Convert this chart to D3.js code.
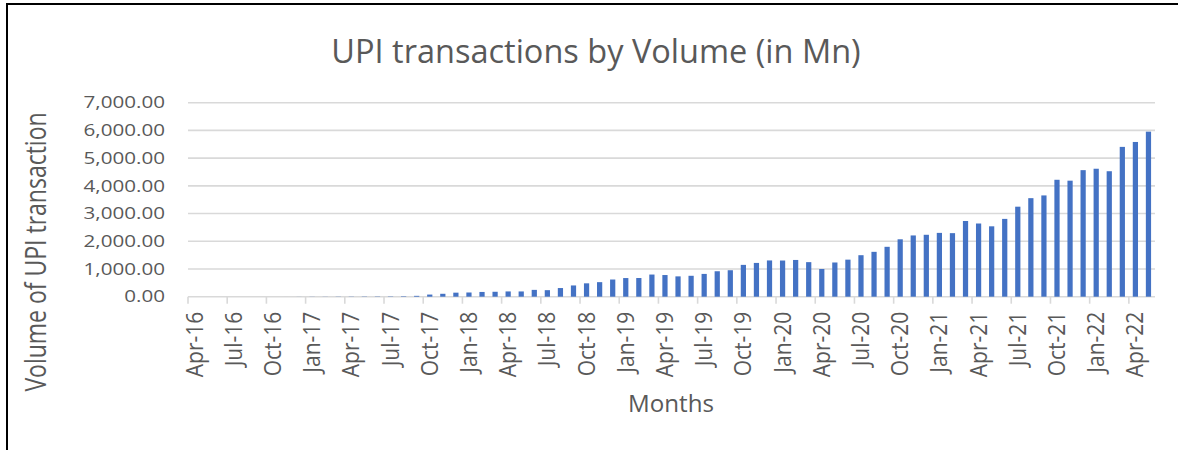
<!DOCTYPE html>
<html><head><meta charset="utf-8">
<script src="https://cdn.jsdelivr.net/npm/d3@7"></script>
<style>
body{margin:0;background:#fff}
svg{display:block}
text{font-family:"Open Sans",sans-serif;fill:#595959}
</style>
</head><body>
<svg id="c" width="1178" height="450"></svg>
<script>
const months = ["Apr-16","May-16","Jun-16","Jul-16","Aug-16","Sep-16","Oct-16","Nov-16","Dec-16",
"Jan-17","Feb-17","Mar-17","Apr-17","May-17","Jun-17","Jul-17","Aug-17","Sep-17","Oct-17","Nov-17","Dec-17",
"Jan-18","Feb-18","Mar-18","Apr-18","May-18","Jun-18","Jul-18","Aug-18","Sep-18","Oct-18","Nov-18","Dec-18",
"Jan-19","Feb-19","Mar-19","Apr-19","May-19","Jun-19","Jul-19","Aug-19","Sep-19","Oct-19","Nov-19","Dec-19",
"Jan-20","Feb-20","Mar-20","Apr-20","May-20","Jun-20","Jul-20","Aug-20","Sep-20","Oct-20","Nov-20","Dec-20",
"Jan-21","Feb-21","Mar-21","Apr-21","May-21","Jun-21","Jul-21","Aug-21","Sep-21","Oct-21","Nov-21","Dec-21",
"Jan-22","Feb-22","Mar-22","Apr-22","May-22"];
const volumes = [0,0,0,0,0.09,0.09,0.10,0.29,1.99,
4.15,4.15,6.37,7.20,9.36,10.35,11.63,16.80,30.98,76.96,105.02,145.64,
151.83,171.40,178.05,190.08,189.48,246.37,235.65,312.02,405.87,482.36,524.94,620.17,
672.75,674.19,799.54,781.79,733.54,754.54,822.30,918.35,955.02,1148.36,1218.76,1308.40,
1305.46,1325.69,1246.84,999.57,1234.50,1336.93,1497.36,1618.83,1800.14,2071.62,2210.23,2234.16,
2302.71,2292.90,2731.68,2641.06,2539.57,2807.51,3247.82,3555.55,3654.30,4218.65,4186.51,4566.30,
4617.15,4527.49,5405.65,5583.05,5955.20];
const yTicks = [0,1000,2000,3000,4000,5000,6000,7000];
const xTickLabels = ["Apr-16","Jul-16","Oct-16","Jan-17","Apr-17","Jul-17","Oct-17","Jan-18","Apr-18",
"Jul-18","Oct-18","Jan-19","Apr-19","Jul-19","Oct-19","Jan-20","Apr-20","Jul-20","Oct-20","Jan-21",
"Apr-21","Jul-21","Oct-21","Jan-22","Apr-22"];
const chartTitle = "UPI transactions by Volume (in Mn)";
const xTitle = "Months";
const yTitle = "Volume of UPI transaction";

const svg = d3.select("#c");
const L = 188, R = 1155, T = 102.7, B = 296.7;
const x = d3.scaleBand().domain(months).range([L, R]).paddingInner(0.6).paddingOuter(0.3);
const y = d3.scaleLinear().domain([0, 7000]).range([B, T]);
const grid = "#d9d9d9";

// border
svg.append("line").attr("x1",7).attr("x2",7).attr("y1",3).attr("y2",450).attr("stroke","#000").attr("stroke-width",2);
svg.append("line").attr("x1",6).attr("x2",1178).attr("y1",4).attr("y2",4).attr("stroke","#000").attr("stroke-width",2);

// gridlines
svg.append("g").selectAll("line").data(yTicks).join("line")
  .attr("x1", L).attr("x2", R).attr("y1", d => y(d)).attr("y2", d => y(d))
  .attr("stroke", grid).attr("stroke-width", 1.6);

// category tick marks
const gap = (x.step() - x.bandwidth()) / 2;
svg.append("g").selectAll("line").data(months.filter((d,i)=>i%3===0)).join("line")
  .attr("x1", d => x(d) - gap).attr("x2", d => x(d) - gap)
  .attr("y1", B).attr("y2", B + 7)
  .attr("stroke", grid).attr("stroke-width", 1.6);

// bars
svg.append("g").selectAll("rect").data(months).join("rect")
  .attr("x", d => x(d)).attr("width", x.bandwidth())
  .attr("y", (d,i) => y(volumes[i])).attr("height", (d,i) => B - y(volumes[i]))
  .attr("fill", "#4472c4");

// y labels
const fmt = d3.format(",.2f");
svg.append("g").selectAll("text").data(yTicks).join("text")
  .attr("transform", d => `translate(165,${y(d)}) scale(1.25,1)`)
  .attr("text-anchor","end").attr("dy","0.35em")
  .style("font-size","16.5px").text(d => fmt(d));

// x labels
svg.append("g").selectAll("text").data(xTickLabels).join("text")
  .attr("transform", d => `translate(${x(d) + x.bandwidth()/2},${B + 15}) rotate(-90) scale(1,1.1)`)
  .attr("text-anchor","end").attr("dy","0.35em")
  .style("font-size","21px").text(d => d);

// titles
svg.append("text").attr("x", 596).attr("y", 63).attr("text-anchor","middle")
  .style("font-size","32.5px").text(chartTitle);
svg.append("text").attr("transform","translate(671,412) scale(1.05,1.05)").attr("text-anchor","middle")
  .style("font-size","23px").text(xTitle);
svg.append("text").attr("transform","translate(46,252) rotate(-90) scale(1,1.25)").attr("text-anchor","middle")
  .style("font-size","23px").text(yTitle);
</script>
</body></html>
